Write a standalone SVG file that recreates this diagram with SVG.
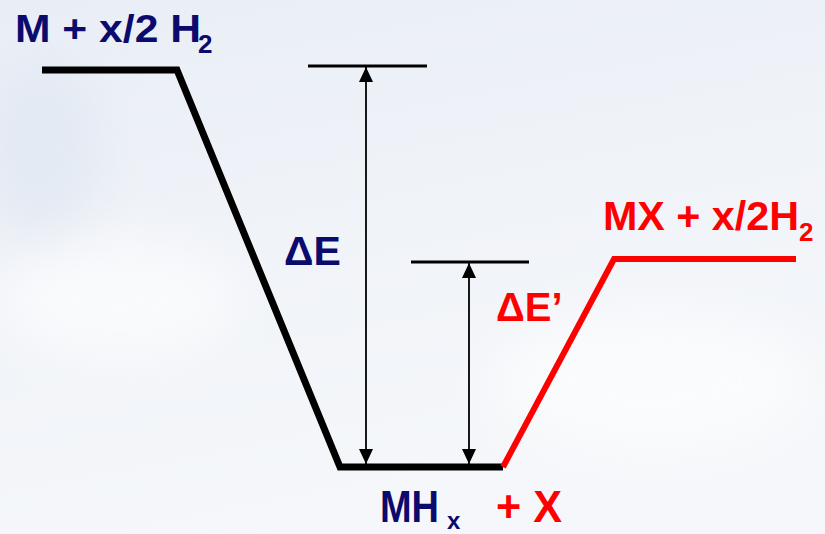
<svg xmlns="http://www.w3.org/2000/svg" width="825" height="534" viewBox="0 0 825 534">
<defs>
<linearGradient id="bg" x1="0" y1="0" x2="0.3" y2="1">
<stop offset="0" stop-color="#e9eef6"/>
<stop offset="0.5" stop-color="#f0f3f8"/>
<stop offset="1" stop-color="#f5f7fa"/>
</linearGradient>
<filter id="blur" x="-50%" y="-50%" width="200%" height="200%"><feGaussianBlur stdDeviation="25"/></filter>
<marker id="ah" viewBox="0 0 15 14" refX="15" refY="7" markerWidth="15" markerHeight="14" markerUnits="userSpaceOnUse" orient="auto-start-reverse">
<path d="M0,0 L15,7 L0,14 Z" fill="#000"/>
</marker>
</defs>
<style>
.t{font-family:"Liberation Sans",Arial,sans-serif;font-weight:bold}
.navy{fill:#0b0b6e}
.red{fill:#ff0000}
.lvl{fill:none;stroke-linejoin:miter;stroke-linecap:butt}
.ref{stroke:#000;stroke-width:3}
.arr{stroke:#000;stroke-width:1.8;marker-start:url(#ah);marker-end:url(#ah)}
</style>
<rect width="825" height="534" fill="url(#bg)"/>
<g filter="url(#blur)" opacity="0.6">
<ellipse cx="120" cy="300" rx="120" ry="60" fill="#ffffff"/>
<ellipse cx="650" cy="380" rx="160" ry="70" fill="#ffffff"/>
<ellipse cx="40" cy="150" rx="60" ry="90" fill="#dde5f0"/>
</g>
<g id="reactant">
<text class="t navy" x="15" y="42" font-size="38" textLength="186" lengthAdjust="spacingAndGlyphs">M + x/2 H</text>
<text class="t navy" x="198" y="53" font-size="26">2</text>
</g>
<g id="hydride">
<text class="t navy" x="380" y="522" font-size="44" textLength="59" lengthAdjust="spacingAndGlyphs">MH</text>
<text class="t navy" x="447" y="529" font-size="24">x</text>
<text class="t red" x="496" y="522" font-size="44" textLength="66" lengthAdjust="spacingAndGlyphs">+ X</text>
</g>
<g id="product">
<text class="t red" x="603" y="230" font-size="41" textLength="196" lengthAdjust="spacingAndGlyphs">MX + x/2H</text>
<text class="t red" x="799" y="241" font-size="26">2</text>
</g>
<g id="dE">
<text class="t navy" x="284" y="265" font-size="41">ΔE</text>
</g>
<g id="dEprime">
<text class="t red" x="496" y="321" font-size="40">ΔE’</text>
</g>
<g id="connectors">
<polyline class="lvl" points="42,70 177,70 340,467 503,467" stroke="#000" stroke-width="7"/>
<polyline class="lvl" points="503,467 614,259 796,259" stroke="#ff0000" stroke-width="6"/>
<line class="ref" x1="308" y1="66" x2="427" y2="66"/>
<line class="ref" x1="411" y1="262" x2="529" y2="262"/>
<line class="arr" x1="366" y1="67" x2="366" y2="464"/>
<line class="arr" x1="469" y1="263" x2="469" y2="464"/>
</g>
</svg>
